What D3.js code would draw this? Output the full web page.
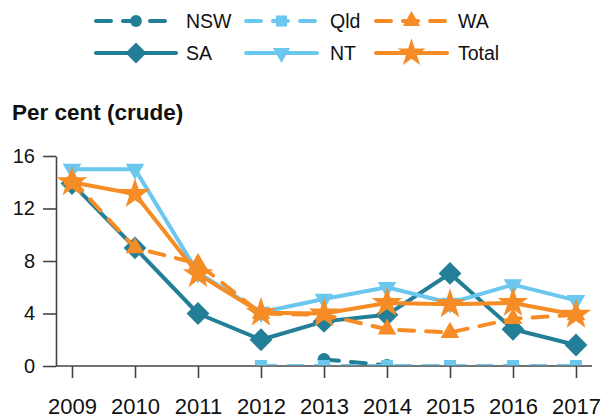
<!DOCTYPE html>
<html>
<head>
  <script src="https://d3js.org/d3.v7.min.js"></script>
  <style>
    body { margin: 0; background: #fff; }
    text { font-family: "Liberation Sans", Arial, sans-serif; fill: #111; }
    .axis path, .axis line { stroke: #444; stroke-width: 1.6; }
    .line { fill: none; stroke-width: 4; stroke-linejoin: round; stroke-linecap: round; }
  </style>
</head>
<body>
  <div id="chart"></div>
  <script>
    // Data
    const years = [2009, 2010, 2011, 2012, 2013, 2014, 2015, 2016, 2017];
    const nsw   = [null, null, null, null, 0.5, 0.05, null, null, null];
    const sa    = [13.9, 9.0, 4.0, 2.0, 3.4, 3.9, 7.05, 2.8, 1.6];
    const qld   = [null, null, null, 0, 0, 0, 0, 0, 0];
    const nt    = [15, 15, 7.1, 4.1, 5.1, 6.0, 4.8, 6.2, 5.0];
    const wa    = [14.2, 9.0, 7.8, 4.0, 3.9, 2.8, 2.55, 3.6, 3.9];
    const total = [14.0, 13.1, 7.0, 4.05, 4.0, 4.8, 4.7, 4.8, 3.9];
    const yTicks = [0, 4, 8, 12, 16];
    const yTitle = "Per cent (crude)";

    // series in legend (column-major) / drawing order
    const series = [
      { name: "NSW",   values: nsw,   color: "#237f98", dash: true,  symbol: "circle" },
      { name: "SA",    values: sa,    color: "#237f98", dash: false, symbol: "diamond" },
      { name: "Qld",   values: qld,   color: "#6cc7ef", dash: true,  symbol: "square" },
      { name: "NT",    values: nt,    color: "#6cc7ef", dash: false, symbol: "triDown" },
      { name: "WA",    values: wa,    color: "#f68c26", dash: true,  symbol: "triUp" },
      { name: "Total", values: total, color: "#f68c26", dash: false, symbol: "star" }
    ];

    const width = 610, height = 420;
    const svg = d3.select("#chart").append("svg")
      .attr("width", width)
      .attr("height", height);

    const x = d3.scaleLinear().domain([2009, 2017]).range([72, 576]);
    const y = d3.scaleLinear().domain([0, 16]).range([366, 156]);
    const axisLeftX = 56, axisRightX = 592;

    function symbolPath(kind) {
      if (kind === "circle") return d3.symbol(d3.symbolCircle, 130)();
      if (kind === "square") return d3.symbol(d3.symbolSquare, 145)();
      if (kind === "diamond") return d3.symbol(d3.symbolSquare, 260)();
      if (kind === "triUp" || kind === "triDown") return d3.symbol(d3.symbolTriangle, 150)();
      return d3.symbol(d3.symbolStar, 290)();
    }
    function symbolRotate(kind) {
      if (kind === "diamond") return 45;
      if (kind === "triDown") return 180;
      return 0;
    }

    // y axis
    svg.append("g")
      .attr("class", "axis")
      .attr("transform", `translate(${axisLeftX},0)`)
      .call(d3.axisLeft(y).tickValues(yTicks).tickSize(13).tickSizeOuter(0).tickPadding(8))
      .call(g => g.selectAll("text").style("font-size", "20px").attr("fill", "#111"));

    // x axis
    const xAxis = svg.append("g")
      .attr("class", "axis")
      .attr("transform", `translate(0,${y(0)})`)
      .call(d3.axisBottom(x).tickValues(years).tickFormat(d3.format("d")).tickSize(12).tickPadding(20))
      .call(g => g.selectAll("text").style("font-size", "22px").attr("fill", "#111"));
    xAxis.select(".domain").remove();
    xAxis.append("line")
      .attr("x1", axisLeftX).attr("x2", axisRightX)
      .attr("stroke", "#444").attr("stroke-width", 1.6);

    // title
    svg.append("text")
      .attr("x", 12)
      .attr("y", 120)
      .style("font-size", "22.5px")
      .style("font-weight", "bold")
      .text(yTitle);

    // plot clip (values at zero show only half marker)
    svg.append("clipPath").attr("id", "plot-clip")
      .append("rect")
      .attr("x", 0).attr("y", 0)
      .attr("width", width).attr("height", y(0) - 0.8);

    const plot = svg.append("g").attr("clip-path", "url(#plot-clip)");

    const line = d3.line()
      .defined(d => d.v != null)
      .x(d => x(d.year))
      .y(d => y(d.v));

    series.forEach(s => {
      const pts = years.map((yr, i) => ({ year: yr, v: s.values[i] }));
      const gs = plot.append("g");
      gs.append("path")
        .datum(pts)
        .attr("class", "line")
        .attr("stroke", s.color)
        .attr("stroke-dasharray", s.dash ? "15,12" : null)
        .attr("d", line);
      gs.selectAll(".pt")
        .data(pts.filter(d => d.v != null))
        .enter().append("path")
        .attr("class", "pt")
        .attr("d", symbolPath(s.symbol))
        .attr("fill", s.color)
        .attr("transform", d => `translate(${x(d.year)},${y(d.v)}) rotate(${symbolRotate(s.symbol)})`);
    });

    // legend: 3 columns, 2 rows, column-major
    const colX = [96, 246, 376];
    const colLen = [80, 71, 71];
    const colText = [90, 84, 82];
    const rowY = [21, 53];
    const legend = svg.append("g");
    series.forEach((s, i) => {
      const c = Math.floor(i / 2);
      const cy = rowY[i % 2];
      const lg = legend.append("g").attr("transform", `translate(${colX[c]},${cy})`);
      lg.append("line")
        .attr("x1", 0).attr("x2", colLen[c])
        .attr("stroke", s.color)
        .attr("stroke-width", 4)
        .attr("stroke-linecap", "round")
        .attr("stroke-dasharray", s.dash ? "15,12" : null);
      lg.append("path")
        .attr("d", symbolPath(s.symbol))
        .attr("fill", s.color)
        .attr("transform", `translate(${colLen[c] / 2},0) rotate(${symbolRotate(s.symbol)}) scale(0.92)`);
      lg.append("text")
        .attr("x", colText[c])
        .attr("dy", "0.36em")
        .style("font-size", "19.5px")
        .text(s.name);
    });
  </script>
</body>
</html>
